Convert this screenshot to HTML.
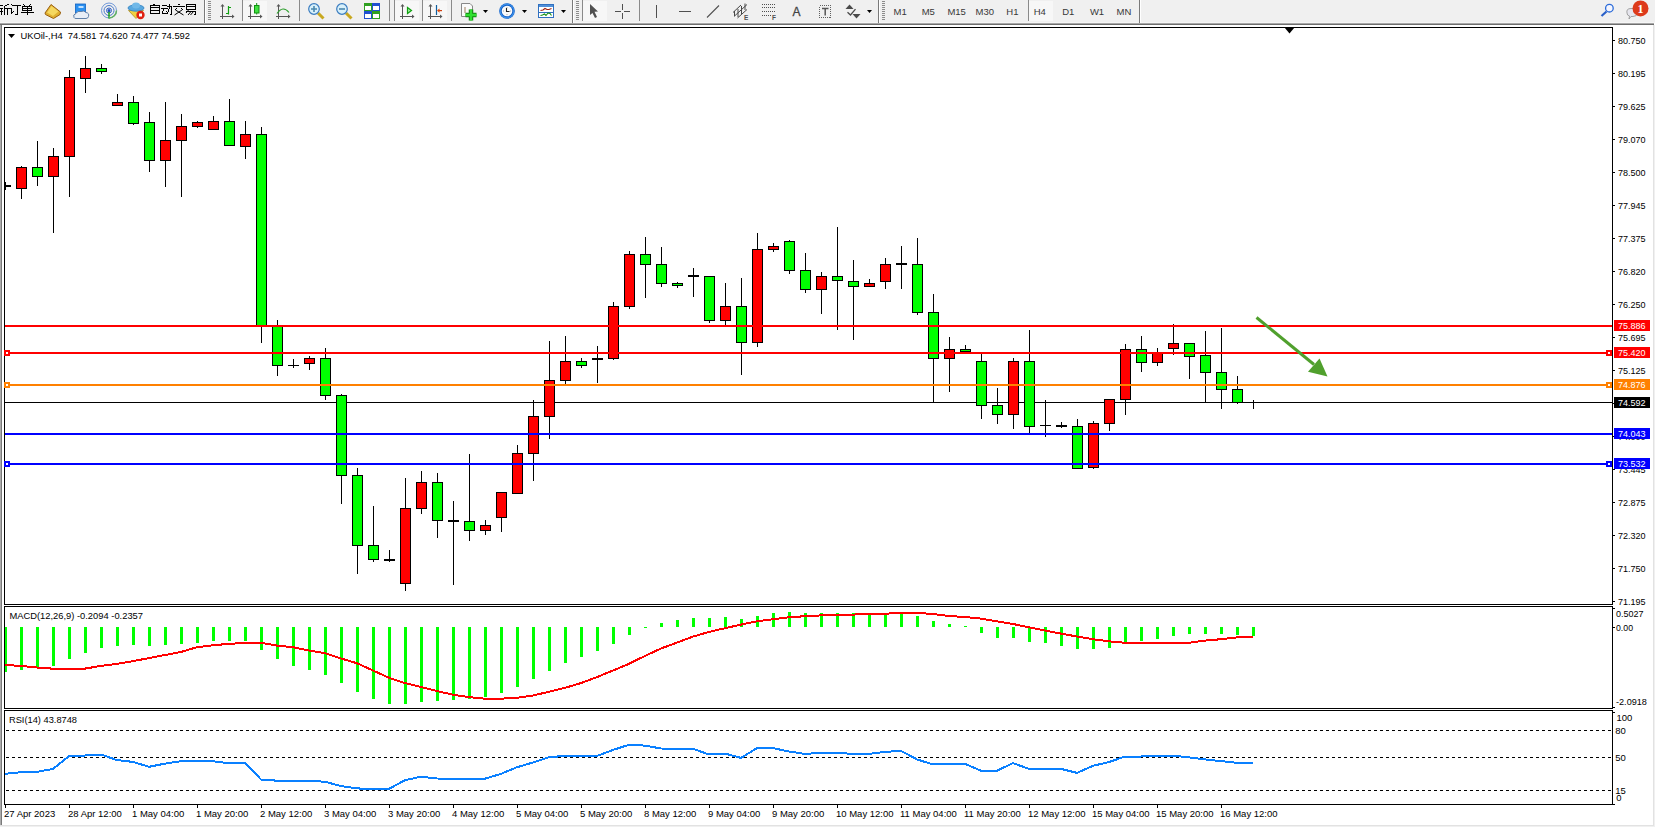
<!DOCTYPE html><html><head><meta charset="utf-8"><style>
html,body{margin:0;padding:0;width:1655px;height:827px;overflow:hidden;background:#fff}
svg{display:block} text{font-family:"Liberation Sans",sans-serif;white-space:pre}
</style></head><body>
<svg width="1655" height="827" viewBox="0 0 1655 827">
<g shape-rendering="crispEdges">
<rect x="0" y="0" width="1655" height="23" fill="#f0f0f0"/>
<rect x="0" y="22" width="1655" height="1" fill="#f6f6f6"/>
<rect x="0" y="23" width="1654" height="1" fill="#a8a8a8"/>
<rect x="0" y="24" width="1654" height="1" fill="#6e6e6e"/>
<rect x="0" y="25" width="1655" height="802" fill="#ffffff"/>
<rect x="0" y="25" width="1" height="801" fill="#ababab"/>
<rect x="1" y="25" width="1" height="801" fill="#7a7a7a"/>
<rect x="1653" y="25" width="1" height="801" fill="#e2e2e2"/>
<rect x="1654" y="25" width="1" height="802" fill="#f0f0f0"/>
<rect x="0" y="825" width="1654" height="1" fill="#e2e2e2"/>
<rect x="0" y="826" width="1655" height="1" fill="#f0f0f0"/>
</g>
<g shape-rendering="crispEdges" fill="none" stroke="#000" stroke-width="1">
<rect x="4.5" y="27.5" width="1608" height="577"/>
<rect x="4.5" y="606.5" width="1608" height="102"/>
<rect x="4.5" y="710.5" width="1608" height="94"/>
</g>
<defs><clipPath id="cm"><rect x="5" y="28" width="1607" height="576"/></clipPath>
<clipPath id="cmacd"><rect x="5" y="607" width="1607" height="101"/></clipPath>
<clipPath id="crsi"><rect x="5" y="711" width="1607" height="93"/></clipPath></defs>
<g clip-path="url(#cm)" shape-rendering="crispEdges">
<rect x="5" y="402" width="1607" height="1" fill="#000"/>
<rect x="5" y="182" width="1" height="8" fill="#000"/>
<rect x="0" y="185" width="11" height="2" fill="#000"/>
<rect x="21" y="166" width="1" height="33" fill="#000"/>
<rect x="16" y="167" width="11" height="22" fill="#000"/>
<rect x="17" y="168" width="9" height="20" fill="#ff0000"/>
<rect x="37" y="141" width="1" height="45" fill="#000"/>
<rect x="32" y="167" width="11" height="10" fill="#000"/>
<rect x="33" y="168" width="9" height="8" fill="#00ff00"/>
<rect x="53" y="148" width="1" height="85" fill="#000"/>
<rect x="48" y="156" width="11" height="21" fill="#000"/>
<rect x="49" y="157" width="9" height="19" fill="#ff0000"/>
<rect x="69" y="70" width="1" height="127" fill="#000"/>
<rect x="64" y="77" width="11" height="80" fill="#000"/>
<rect x="65" y="78" width="9" height="78" fill="#ff0000"/>
<rect x="85" y="56" width="1" height="37" fill="#000"/>
<rect x="80" y="68" width="11" height="11" fill="#000"/>
<rect x="81" y="69" width="9" height="9" fill="#ff0000"/>
<rect x="101" y="64" width="1" height="10" fill="#000"/>
<rect x="96" y="68" width="11" height="4" fill="#000"/>
<rect x="97" y="69" width="9" height="2" fill="#00ff00"/>
<rect x="117" y="94" width="1" height="12" fill="#000"/>
<rect x="112" y="102" width="11" height="4" fill="#000"/>
<rect x="113" y="103" width="9" height="2" fill="#ff0000"/>
<rect x="133" y="96" width="1" height="29" fill="#000"/>
<rect x="128" y="102" width="11" height="22" fill="#000"/>
<rect x="129" y="103" width="9" height="20" fill="#00ff00"/>
<rect x="149" y="112" width="1" height="60" fill="#000"/>
<rect x="144" y="122" width="11" height="39" fill="#000"/>
<rect x="145" y="123" width="9" height="37" fill="#00ff00"/>
<rect x="165" y="102" width="1" height="85" fill="#000"/>
<rect x="160" y="140" width="11" height="21" fill="#000"/>
<rect x="161" y="141" width="9" height="19" fill="#ff0000"/>
<rect x="181" y="114" width="1" height="83" fill="#000"/>
<rect x="176" y="126" width="11" height="15" fill="#000"/>
<rect x="177" y="127" width="9" height="13" fill="#ff0000"/>
<rect x="197" y="121" width="1" height="7" fill="#000"/>
<rect x="192" y="122" width="11" height="5" fill="#000"/>
<rect x="193" y="123" width="9" height="3" fill="#ff0000"/>
<rect x="213" y="116" width="1" height="14" fill="#000"/>
<rect x="208" y="121" width="11" height="9" fill="#000"/>
<rect x="209" y="122" width="9" height="7" fill="#ff0000"/>
<rect x="229" y="99" width="1" height="47" fill="#000"/>
<rect x="224" y="121" width="11" height="25" fill="#000"/>
<rect x="225" y="122" width="9" height="23" fill="#00ff00"/>
<rect x="245" y="121" width="1" height="38" fill="#000"/>
<rect x="240" y="134" width="11" height="13" fill="#000"/>
<rect x="241" y="135" width="9" height="11" fill="#ff0000"/>
<rect x="261" y="127" width="1" height="216" fill="#000"/>
<rect x="256" y="134" width="11" height="192" fill="#000"/>
<rect x="257" y="135" width="9" height="190" fill="#00ff00"/>
<rect x="277" y="320" width="1" height="56" fill="#000"/>
<rect x="272" y="326" width="11" height="40" fill="#000"/>
<rect x="273" y="327" width="9" height="38" fill="#00ff00"/>
<rect x="293" y="359" width="1" height="9" fill="#000"/>
<rect x="288" y="365" width="11" height="1" fill="#000"/>
<rect x="309" y="356" width="1" height="14" fill="#000"/>
<rect x="304" y="358" width="11" height="6" fill="#000"/>
<rect x="305" y="359" width="9" height="4" fill="#ff0000"/>
<rect x="325" y="348" width="1" height="52" fill="#000"/>
<rect x="320" y="358" width="11" height="38" fill="#000"/>
<rect x="321" y="359" width="9" height="36" fill="#00ff00"/>
<rect x="341" y="394" width="1" height="110" fill="#000"/>
<rect x="336" y="395" width="11" height="81" fill="#000"/>
<rect x="337" y="396" width="9" height="79" fill="#00ff00"/>
<rect x="357" y="468" width="1" height="106" fill="#000"/>
<rect x="352" y="475" width="11" height="71" fill="#000"/>
<rect x="353" y="476" width="9" height="69" fill="#00ff00"/>
<rect x="373" y="506" width="1" height="56" fill="#000"/>
<rect x="368" y="545" width="11" height="15" fill="#000"/>
<rect x="369" y="546" width="9" height="13" fill="#00ff00"/>
<rect x="389" y="550" width="1" height="12" fill="#000"/>
<rect x="384" y="559" width="11" height="2" fill="#000"/>
<rect x="405" y="478" width="1" height="113" fill="#000"/>
<rect x="400" y="508" width="11" height="76" fill="#000"/>
<rect x="401" y="509" width="9" height="74" fill="#ff0000"/>
<rect x="421" y="471" width="1" height="43" fill="#000"/>
<rect x="416" y="482" width="11" height="27" fill="#000"/>
<rect x="417" y="483" width="9" height="25" fill="#ff0000"/>
<rect x="437" y="473" width="1" height="65" fill="#000"/>
<rect x="432" y="482" width="11" height="39" fill="#000"/>
<rect x="433" y="483" width="9" height="37" fill="#00ff00"/>
<rect x="453" y="501" width="1" height="84" fill="#000"/>
<rect x="448" y="520" width="11" height="2" fill="#000"/>
<rect x="469" y="454" width="1" height="87" fill="#000"/>
<rect x="464" y="521" width="11" height="10" fill="#000"/>
<rect x="465" y="522" width="9" height="8" fill="#00ff00"/>
<rect x="485" y="520" width="1" height="15" fill="#000"/>
<rect x="480" y="525" width="11" height="6" fill="#000"/>
<rect x="481" y="526" width="9" height="4" fill="#ff0000"/>
<rect x="501" y="492" width="1" height="40" fill="#000"/>
<rect x="496" y="492" width="11" height="26" fill="#000"/>
<rect x="497" y="493" width="9" height="24" fill="#ff0000"/>
<rect x="517" y="445" width="1" height="49" fill="#000"/>
<rect x="512" y="453" width="11" height="41" fill="#000"/>
<rect x="513" y="454" width="9" height="39" fill="#ff0000"/>
<rect x="533" y="400" width="1" height="81" fill="#000"/>
<rect x="528" y="416" width="11" height="38" fill="#000"/>
<rect x="529" y="417" width="9" height="36" fill="#ff0000"/>
<rect x="549" y="341" width="1" height="98" fill="#000"/>
<rect x="544" y="380" width="11" height="37" fill="#000"/>
<rect x="545" y="381" width="9" height="35" fill="#ff0000"/>
<rect x="565" y="336" width="1" height="48" fill="#000"/>
<rect x="560" y="361" width="11" height="20" fill="#000"/>
<rect x="561" y="362" width="9" height="18" fill="#ff0000"/>
<rect x="581" y="358" width="1" height="10" fill="#000"/>
<rect x="576" y="361" width="11" height="5" fill="#000"/>
<rect x="577" y="362" width="9" height="3" fill="#00ff00"/>
<rect x="597" y="346" width="1" height="37" fill="#000"/>
<rect x="592" y="358" width="11" height="2" fill="#000"/>
<rect x="613" y="302" width="1" height="58" fill="#000"/>
<rect x="608" y="306" width="11" height="53" fill="#000"/>
<rect x="609" y="307" width="9" height="51" fill="#ff0000"/>
<rect x="629" y="251" width="1" height="58" fill="#000"/>
<rect x="624" y="254" width="11" height="53" fill="#000"/>
<rect x="625" y="255" width="9" height="51" fill="#ff0000"/>
<rect x="645" y="237" width="1" height="61" fill="#000"/>
<rect x="640" y="254" width="11" height="11" fill="#000"/>
<rect x="641" y="255" width="9" height="9" fill="#00ff00"/>
<rect x="661" y="247" width="1" height="40" fill="#000"/>
<rect x="656" y="264" width="11" height="20" fill="#000"/>
<rect x="657" y="265" width="9" height="18" fill="#00ff00"/>
<rect x="677" y="282" width="1" height="6" fill="#000"/>
<rect x="672" y="283" width="11" height="3" fill="#000"/>
<rect x="673" y="284" width="9" height="1" fill="#00ff00"/>
<rect x="693" y="268" width="1" height="29" fill="#000"/>
<rect x="688" y="275" width="11" height="2" fill="#000"/>
<rect x="709" y="276" width="1" height="47" fill="#000"/>
<rect x="704" y="276" width="11" height="45" fill="#000"/>
<rect x="705" y="277" width="9" height="43" fill="#00ff00"/>
<rect x="725" y="283" width="1" height="43" fill="#000"/>
<rect x="720" y="306" width="11" height="15" fill="#000"/>
<rect x="721" y="307" width="9" height="13" fill="#ff0000"/>
<rect x="741" y="278" width="1" height="97" fill="#000"/>
<rect x="736" y="306" width="11" height="37" fill="#000"/>
<rect x="737" y="307" width="9" height="35" fill="#00ff00"/>
<rect x="757" y="233" width="1" height="114" fill="#000"/>
<rect x="752" y="249" width="11" height="94" fill="#000"/>
<rect x="753" y="250" width="9" height="92" fill="#ff0000"/>
<rect x="773" y="243" width="1" height="9" fill="#000"/>
<rect x="768" y="246" width="11" height="4" fill="#000"/>
<rect x="769" y="247" width="9" height="2" fill="#ff0000"/>
<rect x="789" y="240" width="1" height="34" fill="#000"/>
<rect x="784" y="241" width="11" height="30" fill="#000"/>
<rect x="785" y="242" width="9" height="28" fill="#00ff00"/>
<rect x="805" y="253" width="1" height="40" fill="#000"/>
<rect x="800" y="270" width="11" height="20" fill="#000"/>
<rect x="801" y="271" width="9" height="18" fill="#00ff00"/>
<rect x="821" y="272" width="1" height="42" fill="#000"/>
<rect x="816" y="276" width="11" height="14" fill="#000"/>
<rect x="817" y="277" width="9" height="12" fill="#ff0000"/>
<rect x="837" y="227" width="1" height="103" fill="#000"/>
<rect x="832" y="276" width="11" height="5" fill="#000"/>
<rect x="833" y="277" width="9" height="3" fill="#00ff00"/>
<rect x="853" y="260" width="1" height="80" fill="#000"/>
<rect x="848" y="281" width="11" height="6" fill="#000"/>
<rect x="849" y="282" width="9" height="4" fill="#00ff00"/>
<rect x="869" y="279" width="1" height="8" fill="#000"/>
<rect x="864" y="283" width="11" height="4" fill="#000"/>
<rect x="865" y="284" width="9" height="2" fill="#ff0000"/>
<rect x="885" y="258" width="1" height="31" fill="#000"/>
<rect x="880" y="264" width="11" height="18" fill="#000"/>
<rect x="881" y="265" width="9" height="16" fill="#ff0000"/>
<rect x="901" y="246" width="1" height="43" fill="#000"/>
<rect x="896" y="263" width="11" height="2" fill="#000"/>
<rect x="917" y="238" width="1" height="77" fill="#000"/>
<rect x="912" y="264" width="11" height="49" fill="#000"/>
<rect x="913" y="265" width="9" height="47" fill="#00ff00"/>
<rect x="933" y="294" width="1" height="109" fill="#000"/>
<rect x="928" y="312" width="11" height="47" fill="#000"/>
<rect x="929" y="313" width="9" height="45" fill="#00ff00"/>
<rect x="949" y="337" width="1" height="55" fill="#000"/>
<rect x="944" y="349" width="11" height="10" fill="#000"/>
<rect x="945" y="350" width="9" height="8" fill="#ff0000"/>
<rect x="965" y="345" width="1" height="7" fill="#000"/>
<rect x="960" y="349" width="11" height="3" fill="#000"/>
<rect x="961" y="350" width="9" height="1" fill="#00ff00"/>
<rect x="981" y="354" width="1" height="65" fill="#000"/>
<rect x="976" y="361" width="11" height="45" fill="#000"/>
<rect x="977" y="362" width="9" height="43" fill="#00ff00"/>
<rect x="997" y="388" width="1" height="36" fill="#000"/>
<rect x="992" y="405" width="11" height="10" fill="#000"/>
<rect x="993" y="406" width="9" height="8" fill="#00ff00"/>
<rect x="1013" y="358" width="1" height="71" fill="#000"/>
<rect x="1008" y="361" width="11" height="54" fill="#000"/>
<rect x="1009" y="362" width="9" height="52" fill="#ff0000"/>
<rect x="1029" y="330" width="1" height="103" fill="#000"/>
<rect x="1024" y="361" width="11" height="66" fill="#000"/>
<rect x="1025" y="362" width="9" height="64" fill="#00ff00"/>
<rect x="1045" y="400" width="1" height="37" fill="#000"/>
<rect x="1040" y="425" width="11" height="1" fill="#000"/>
<rect x="1061" y="422" width="1" height="6" fill="#000"/>
<rect x="1056" y="425" width="11" height="2" fill="#000"/>
<rect x="1077" y="419" width="1" height="50" fill="#000"/>
<rect x="1072" y="426" width="11" height="43" fill="#000"/>
<rect x="1073" y="427" width="9" height="41" fill="#00ff00"/>
<rect x="1093" y="421" width="1" height="48" fill="#000"/>
<rect x="1088" y="423" width="11" height="45" fill="#000"/>
<rect x="1089" y="424" width="9" height="43" fill="#ff0000"/>
<rect x="1109" y="399" width="1" height="32" fill="#000"/>
<rect x="1104" y="399" width="11" height="25" fill="#000"/>
<rect x="1105" y="400" width="9" height="23" fill="#ff0000"/>
<rect x="1125" y="344" width="1" height="71" fill="#000"/>
<rect x="1120" y="349" width="11" height="51" fill="#000"/>
<rect x="1121" y="350" width="9" height="49" fill="#ff0000"/>
<rect x="1141" y="336" width="1" height="36" fill="#000"/>
<rect x="1136" y="349" width="11" height="14" fill="#000"/>
<rect x="1137" y="350" width="9" height="12" fill="#00ff00"/>
<rect x="1157" y="348" width="1" height="18" fill="#000"/>
<rect x="1152" y="353" width="11" height="10" fill="#000"/>
<rect x="1153" y="354" width="9" height="8" fill="#ff0000"/>
<rect x="1173" y="324" width="1" height="31" fill="#000"/>
<rect x="1168" y="343" width="11" height="6" fill="#000"/>
<rect x="1169" y="344" width="9" height="4" fill="#ff0000"/>
<rect x="1189" y="343" width="1" height="36" fill="#000"/>
<rect x="1184" y="343" width="11" height="14" fill="#000"/>
<rect x="1185" y="344" width="9" height="12" fill="#00ff00"/>
<rect x="1205" y="331" width="1" height="72" fill="#000"/>
<rect x="1200" y="355" width="11" height="18" fill="#000"/>
<rect x="1201" y="356" width="9" height="16" fill="#00ff00"/>
<rect x="1221" y="328" width="1" height="81" fill="#000"/>
<rect x="1216" y="372" width="11" height="18" fill="#000"/>
<rect x="1217" y="373" width="9" height="16" fill="#00ff00"/>
<rect x="1237" y="376" width="1" height="28" fill="#000"/>
<rect x="1232" y="389" width="11" height="14" fill="#000"/>
<rect x="1233" y="390" width="9" height="12" fill="#00ff00"/>
<rect x="1253" y="400" width="1" height="9" fill="#000"/>
<rect x="1248" y="402" width="11" height="1" fill="#000"/>
<rect x="5" y="325" width="1607" height="2" fill="#ff0000"/>
<rect x="5" y="352" width="1607" height="2" fill="#ff0000"/>
<rect x="5" y="384" width="1607" height="2" fill="#ff8000"/>
<rect x="5" y="433" width="1607" height="2" fill="#0000ff"/>
<rect x="5" y="463" width="1607" height="2" fill="#0000ff"/>
</g>
<g shape-rendering="crispEdges">
<rect x="4" y="350" width="6" height="6" fill="#ff0000"/>
<rect x="6" y="352" width="2" height="2" fill="#fff"/>
<rect x="1606" y="350" width="6" height="6" fill="#ff0000"/>
<rect x="1608" y="352" width="2" height="2" fill="#fff"/>
<rect x="4" y="382" width="6" height="6" fill="#ff8000"/>
<rect x="6" y="384" width="2" height="2" fill="#fff"/>
<rect x="1606" y="382" width="6" height="6" fill="#ff8000"/>
<rect x="1608" y="384" width="2" height="2" fill="#fff"/>
<rect x="4" y="461" width="6" height="6" fill="#0000ff"/>
<rect x="6" y="463" width="2" height="2" fill="#fff"/>
<rect x="1606" y="461" width="6" height="6" fill="#0000ff"/>
<rect x="1608" y="463" width="2" height="2" fill="#fff"/>
</g>
<polygon points="1284.5,27.5 1294.5,27.5 1289.5,33.5" fill="#000"/>
<g fill="#50a02d" stroke="none">
<line x1="1256.5" y1="317.5" x2="1314" y2="364.5" stroke="#50a02d" stroke-width="3"/>
<polygon points="1327.5,376.5 1308,371.8 1319.5,358.5"/>
</g>
<g shape-rendering="crispEdges">
<rect x="1613" y="40" width="2" height="1" fill="#000"/>
<rect x="1613" y="73" width="2" height="1" fill="#000"/>
<rect x="1613" y="106" width="2" height="1" fill="#000"/>
<rect x="1613" y="139" width="2" height="1" fill="#000"/>
<rect x="1613" y="172" width="2" height="1" fill="#000"/>
<rect x="1613" y="205" width="2" height="1" fill="#000"/>
<rect x="1613" y="238" width="2" height="1" fill="#000"/>
<rect x="1613" y="271" width="2" height="1" fill="#000"/>
<rect x="1613" y="304" width="2" height="1" fill="#000"/>
<rect x="1613" y="337" width="2" height="1" fill="#000"/>
<rect x="1613" y="370" width="2" height="1" fill="#000"/>
<rect x="1613" y="403" width="2" height="1" fill="#000"/>
<rect x="1613" y="436" width="2" height="1" fill="#000"/>
<rect x="1613" y="469" width="2" height="1" fill="#000"/>
<rect x="1613" y="502" width="2" height="1" fill="#000"/>
<rect x="1613" y="535" width="2" height="1" fill="#000"/>
<rect x="1613" y="568" width="2" height="1" fill="#000"/>
<rect x="1613" y="601" width="2" height="1" fill="#000"/>
</g>
<text x="1618" y="44" font-size="9.5" fill="#000" textLength="27.6" lengthAdjust="spacingAndGlyphs">80.750</text>
<text x="1618" y="77" font-size="9.5" fill="#000" textLength="27.6" lengthAdjust="spacingAndGlyphs">80.195</text>
<text x="1618" y="110" font-size="9.5" fill="#000" textLength="27.6" lengthAdjust="spacingAndGlyphs">79.625</text>
<text x="1618" y="143" font-size="9.5" fill="#000" textLength="27.6" lengthAdjust="spacingAndGlyphs">79.070</text>
<text x="1618" y="176" font-size="9.5" fill="#000" textLength="27.6" lengthAdjust="spacingAndGlyphs">78.500</text>
<text x="1618" y="209" font-size="9.5" fill="#000" textLength="27.6" lengthAdjust="spacingAndGlyphs">77.945</text>
<text x="1618" y="242" font-size="9.5" fill="#000" textLength="27.6" lengthAdjust="spacingAndGlyphs">77.375</text>
<text x="1618" y="275" font-size="9.5" fill="#000" textLength="27.6" lengthAdjust="spacingAndGlyphs">76.820</text>
<text x="1618" y="308" font-size="9.5" fill="#000" textLength="27.6" lengthAdjust="spacingAndGlyphs">76.250</text>
<text x="1618" y="341" font-size="9.5" fill="#000" textLength="27.6" lengthAdjust="spacingAndGlyphs">75.695</text>
<text x="1618" y="374" font-size="9.5" fill="#000" textLength="27.6" lengthAdjust="spacingAndGlyphs">75.125</text>
<text x="1618" y="407" font-size="9.5" fill="#000" textLength="27.6" lengthAdjust="spacingAndGlyphs">74.570</text>
<text x="1618" y="440" font-size="9.5" fill="#000" textLength="27.6" lengthAdjust="spacingAndGlyphs">74.000</text>
<text x="1618" y="473" font-size="9.5" fill="#000" textLength="27.6" lengthAdjust="spacingAndGlyphs">73.445</text>
<text x="1618" y="506" font-size="9.5" fill="#000" textLength="27.6" lengthAdjust="spacingAndGlyphs">72.875</text>
<text x="1618" y="539" font-size="9.5" fill="#000" textLength="27.6" lengthAdjust="spacingAndGlyphs">72.320</text>
<text x="1618" y="572" font-size="9.5" fill="#000" textLength="27.6" lengthAdjust="spacingAndGlyphs">71.750</text>
<text x="1618" y="605" font-size="9.5" fill="#000" textLength="27.6" lengthAdjust="spacingAndGlyphs">71.195</text>
<g shape-rendering="crispEdges">
<rect x="1614" y="320" width="36" height="11" fill="#ff0000"/>
<rect x="1614" y="347" width="36" height="11" fill="#ff0000"/>
<rect x="1614" y="379" width="36" height="11" fill="#ff8000"/>
<rect x="1614" y="397" width="36" height="11" fill="#000"/>
<rect x="1614" y="428" width="36" height="11" fill="#0000ff"/>
<rect x="1614" y="458" width="36" height="11" fill="#0000ff"/>
</g>
<text x="1618" y="329" font-size="9.5" fill="#fff" textLength="27.6" lengthAdjust="spacingAndGlyphs">75.886</text>
<text x="1618" y="356" font-size="9.5" fill="#fff" textLength="27.6" lengthAdjust="spacingAndGlyphs">75.420</text>
<text x="1618" y="388" font-size="9.5" fill="#fff" textLength="27.6" lengthAdjust="spacingAndGlyphs">74.876</text>
<text x="1618" y="406" font-size="9.5" fill="#fff" textLength="27.6" lengthAdjust="spacingAndGlyphs">74.592</text>
<text x="1618" y="437" font-size="9.5" fill="#fff" textLength="27.6" lengthAdjust="spacingAndGlyphs">74.043</text>
<text x="1618" y="467" font-size="9.5" fill="#fff" textLength="27.6" lengthAdjust="spacingAndGlyphs">73.532</text>
<polygon points="8,34 15,34 11.5,38" fill="#000"/>
<text x="20.5" y="39" font-size="9.5" fill="#000" textLength="169.5" lengthAdjust="spacingAndGlyphs">UKOil-,H4  74.581 74.620 74.477 74.592</text>
<g clip-path="url(#cmacd)" shape-rendering="crispEdges">
<rect x="4" y="627" width="3" height="45" fill="#00ff00"/>
<rect x="20" y="627" width="3" height="43" fill="#00ff00"/>
<rect x="36" y="627" width="3" height="41" fill="#00ff00"/>
<rect x="52" y="627" width="3" height="39" fill="#00ff00"/>
<rect x="68" y="627" width="3" height="32" fill="#00ff00"/>
<rect x="84" y="627" width="3" height="26" fill="#00ff00"/>
<rect x="100" y="627" width="3" height="21" fill="#00ff00"/>
<rect x="116" y="627" width="3" height="19" fill="#00ff00"/>
<rect x="132" y="627" width="3" height="18" fill="#00ff00"/>
<rect x="148" y="627" width="3" height="19" fill="#00ff00"/>
<rect x="164" y="627" width="3" height="18" fill="#00ff00"/>
<rect x="180" y="627" width="3" height="17" fill="#00ff00"/>
<rect x="196" y="627" width="3" height="16" fill="#00ff00"/>
<rect x="212" y="627" width="3" height="14" fill="#00ff00"/>
<rect x="228" y="627" width="3" height="14" fill="#00ff00"/>
<rect x="244" y="627" width="3" height="14" fill="#00ff00"/>
<rect x="260" y="627" width="3" height="23" fill="#00ff00"/>
<rect x="276" y="627" width="3" height="32" fill="#00ff00"/>
<rect x="292" y="627" width="3" height="39" fill="#00ff00"/>
<rect x="308" y="627" width="3" height="43" fill="#00ff00"/>
<rect x="324" y="627" width="3" height="48" fill="#00ff00"/>
<rect x="340" y="627" width="3" height="56" fill="#00ff00"/>
<rect x="356" y="627" width="3" height="65" fill="#00ff00"/>
<rect x="372" y="627" width="3" height="72" fill="#00ff00"/>
<rect x="388" y="627" width="3" height="77" fill="#00ff00"/>
<rect x="404" y="627" width="3" height="77" fill="#00ff00"/>
<rect x="420" y="627" width="3" height="75" fill="#00ff00"/>
<rect x="436" y="627" width="3" height="74" fill="#00ff00"/>
<rect x="452" y="627" width="3" height="73" fill="#00ff00"/>
<rect x="468" y="627" width="3" height="72" fill="#00ff00"/>
<rect x="484" y="627" width="3" height="70" fill="#00ff00"/>
<rect x="500" y="627" width="3" height="66" fill="#00ff00"/>
<rect x="516" y="627" width="3" height="60" fill="#00ff00"/>
<rect x="532" y="627" width="3" height="52" fill="#00ff00"/>
<rect x="548" y="627" width="3" height="44" fill="#00ff00"/>
<rect x="564" y="627" width="3" height="36" fill="#00ff00"/>
<rect x="580" y="627" width="3" height="30" fill="#00ff00"/>
<rect x="596" y="627" width="3" height="24" fill="#00ff00"/>
<rect x="612" y="627" width="3" height="17" fill="#00ff00"/>
<rect x="628" y="627" width="3" height="8" fill="#00ff00"/>
<rect x="644" y="627" width="3" height="1" fill="#00ff00"/>
<rect x="660" y="623" width="3" height="4" fill="#00ff00"/>
<rect x="676" y="620" width="3" height="7" fill="#00ff00"/>
<rect x="692" y="618" width="3" height="9" fill="#00ff00"/>
<rect x="708" y="618" width="3" height="9" fill="#00ff00"/>
<rect x="724" y="617" width="3" height="10" fill="#00ff00"/>
<rect x="740" y="619" width="3" height="8" fill="#00ff00"/>
<rect x="756" y="616" width="3" height="11" fill="#00ff00"/>
<rect x="772" y="613" width="3" height="14" fill="#00ff00"/>
<rect x="788" y="612" width="3" height="15" fill="#00ff00"/>
<rect x="804" y="613" width="3" height="14" fill="#00ff00"/>
<rect x="820" y="613" width="3" height="14" fill="#00ff00"/>
<rect x="836" y="613" width="3" height="14" fill="#00ff00"/>
<rect x="852" y="613" width="3" height="14" fill="#00ff00"/>
<rect x="868" y="613" width="3" height="14" fill="#00ff00"/>
<rect x="884" y="613" width="3" height="14" fill="#00ff00"/>
<rect x="900" y="613" width="3" height="14" fill="#00ff00"/>
<rect x="916" y="616" width="3" height="11" fill="#00ff00"/>
<rect x="932" y="621" width="3" height="6" fill="#00ff00"/>
<rect x="948" y="624" width="3" height="3" fill="#00ff00"/>
<rect x="964" y="626" width="3" height="1" fill="#00ff00"/>
<rect x="980" y="627" width="3" height="6" fill="#00ff00"/>
<rect x="996" y="627" width="3" height="11" fill="#00ff00"/>
<rect x="1012" y="627" width="3" height="11" fill="#00ff00"/>
<rect x="1028" y="627" width="3" height="15" fill="#00ff00"/>
<rect x="1044" y="627" width="3" height="16" fill="#00ff00"/>
<rect x="1060" y="627" width="3" height="19" fill="#00ff00"/>
<rect x="1076" y="627" width="3" height="22" fill="#00ff00"/>
<rect x="1092" y="627" width="3" height="22" fill="#00ff00"/>
<rect x="1108" y="627" width="3" height="21" fill="#00ff00"/>
<rect x="1124" y="627" width="3" height="17" fill="#00ff00"/>
<rect x="1140" y="627" width="3" height="14" fill="#00ff00"/>
<rect x="1156" y="627" width="3" height="12" fill="#00ff00"/>
<rect x="1172" y="627" width="3" height="9" fill="#00ff00"/>
<rect x="1188" y="627" width="3" height="7" fill="#00ff00"/>
<rect x="1204" y="627" width="3" height="7" fill="#00ff00"/>
<rect x="1220" y="627" width="3" height="7" fill="#00ff00"/>
<rect x="1236" y="627" width="3" height="8" fill="#00ff00"/>
<rect x="1252" y="627" width="3" height="9" fill="#00ff00"/>
</g>
<g clip-path="url(#cmacd)"><polyline points="5,665 21,665.9 37,667.5 53,668.7 69,668.8 85,668.6 101,665.9 117,663.9 133,661.1 149,658.1 165,655 181,652 197,647.2 213,645.2 229,643.9 245,642.8 261,642.8 277,645.6 293,647.2 309,650.5 325,653.2 341,658.5 357,663.2 373,670.5 389,677.8 405,683.1 421,687.1 437,691.1 453,694.7 469,697.1 485,698.7 501,698.7 517,697.8 533,695.5 549,691.8 565,687.8 581,683.1 597,677.1 613,670.5 629,663.8 645,655.9 661,648.5 677,642.6 693,636.6 709,631.9 725,628.2 741,624.6 757,621.3 773,619.3 789,617.3 805,616.2 821,615.4 837,614.6 853,614.6 869,613.7 885,613.7 901,612.9 917,612.9 933,614 949,616 965,617 981,618.6 997,621.3 1013,624 1029,627.3 1045,630.5 1061,633.6 1077,636.5 1093,639.2 1109,641.3 1125,642.8 1141,642.8 1157,642.8 1173,642.8 1189,642.8 1205,640.6 1221,639.2 1237,637.4 1253,637" fill="none" stroke="#ff0000" stroke-width="2" shape-rendering="crispEdges" stroke-linejoin="round"/></g>
<text x="9.4" y="619" font-size="9.5" fill="#000" textLength="133.6" lengthAdjust="spacingAndGlyphs">MACD(12,26,9) -0.2094 -0.2357</text>
<g shape-rendering="crispEdges">
<rect x="1613" y="608" width="2" height="1" fill="#000"/>
<rect x="1613" y="627" width="2" height="1" fill="#000"/>
<rect x="1613" y="707" width="2" height="1" fill="#000"/>
</g>
<text x="1616" y="617" font-size="9.5" fill="#000" textLength="27.5" lengthAdjust="spacingAndGlyphs">0.5027</text>
<text x="1616" y="631" font-size="9.5" fill="#000" textLength="17" lengthAdjust="spacingAndGlyphs">0.00</text>
<text x="1616" y="705" font-size="9.5" fill="#000" textLength="30.9" lengthAdjust="spacingAndGlyphs">-2.0918</text>
<g clip-path="url(#crsi)" shape-rendering="crispEdges">
<line x1="6" y1="730.5" x2="1612" y2="730.5" stroke="#000" stroke-width="1" stroke-dasharray="3,3"/>
<line x1="6" y1="757.5" x2="1612" y2="757.5" stroke="#000" stroke-width="1" stroke-dasharray="3,3"/>
<line x1="6" y1="790.5" x2="1612" y2="790.5" stroke="#000" stroke-width="1" stroke-dasharray="3,3"/>
</g>
<g clip-path="url(#crsi)"><polyline points="5,773.8 21,772.2 37,771.8 53,768.9 69,756.1 85,755.5 101,754.5 117,760.1 133,761.9 149,766.8 165,763.6 181,761.2 197,760.9 213,761.2 229,763.2 245,762.8 261,779.5 277,780.7 293,780.7 309,780.7 325,781.8 341,786 357,788.4 373,789.1 389,788.8 405,780.2 421,776.7 437,778.5 453,778.7 469,778.7 485,778.7 501,773.8 517,767.2 533,762.5 549,757.2 565,755.9 581,755.9 597,755.9 613,749.9 629,744.8 645,745.6 661,748.5 677,748.8 693,748.8 709,754.5 725,753.6 741,757.9 757,748.1 773,748.1 789,751.5 805,753.9 821,752.9 837,752.9 853,753.9 869,753.9 885,751.9 901,750.9 917,759.4 933,764.5 949,763.8 965,763.8 981,770.7 997,770.7 1013,763.1 1029,768.9 1045,768.9 1061,768.9 1077,772.9 1093,765.8 1109,762.1 1125,756.5 1141,756.5 1157,755.7 1173,755.7 1189,757.4 1205,759.4 1221,761.1 1237,762.8 1253,762.8" fill="none" stroke="#0a80ff" stroke-width="2" shape-rendering="crispEdges" stroke-linejoin="round"/></g>
<text x="9" y="723.3" font-size="9.5" fill="#000" textLength="68" lengthAdjust="spacingAndGlyphs">RSI(14) 43.8748</text>
<g shape-rendering="crispEdges">
<rect x="1613" y="712" width="2" height="1" fill="#000"/>
<rect x="1613" y="804" width="2" height="1" fill="#000"/>
</g>
<text x="1616.4" y="721" font-size="9.5" fill="#000" textLength="15.85" lengthAdjust="spacingAndGlyphs">100</text>
<text x="1615.3" y="733.5" font-size="9.5" fill="#000" textLength="10.57" lengthAdjust="spacingAndGlyphs">80</text>
<text x="1615.3" y="761" font-size="9.5" fill="#000" textLength="10.57" lengthAdjust="spacingAndGlyphs">50</text>
<text x="1615.3" y="793.6" font-size="9.5" fill="#000" textLength="10.57" lengthAdjust="spacingAndGlyphs">15</text>
<text x="1616.3" y="800.7" font-size="9.5" fill="#000" textLength="5.28" lengthAdjust="spacingAndGlyphs">0</text>
<g shape-rendering="crispEdges">
<rect x="5" y="805" width="1" height="3" fill="#000"/>
<rect x="69" y="805" width="1" height="3" fill="#000"/>
<rect x="133" y="805" width="1" height="3" fill="#000"/>
<rect x="197" y="805" width="1" height="3" fill="#000"/>
<rect x="261" y="805" width="1" height="3" fill="#000"/>
<rect x="325" y="805" width="1" height="3" fill="#000"/>
<rect x="389" y="805" width="1" height="3" fill="#000"/>
<rect x="453" y="805" width="1" height="3" fill="#000"/>
<rect x="517" y="805" width="1" height="3" fill="#000"/>
<rect x="581" y="805" width="1" height="3" fill="#000"/>
<rect x="645" y="805" width="1" height="3" fill="#000"/>
<rect x="709" y="805" width="1" height="3" fill="#000"/>
<rect x="773" y="805" width="1" height="3" fill="#000"/>
<rect x="837" y="805" width="1" height="3" fill="#000"/>
<rect x="901" y="805" width="1" height="3" fill="#000"/>
<rect x="965" y="805" width="1" height="3" fill="#000"/>
<rect x="1029" y="805" width="1" height="3" fill="#000"/>
<rect x="1093" y="805" width="1" height="3" fill="#000"/>
<rect x="1157" y="805" width="1" height="3" fill="#000"/>
<rect x="1221" y="805" width="1" height="3" fill="#000"/>
</g>
<text x="4" y="817" font-size="9.5" fill="#000" textLength="51.23" lengthAdjust="spacingAndGlyphs">27 Apr 2023</text>
<text x="68" y="817" font-size="9.5" fill="#000" textLength="53.87" lengthAdjust="spacingAndGlyphs">28 Apr 12:00</text>
<text x="132" y="817" font-size="9.5" fill="#000" textLength="52.28" lengthAdjust="spacingAndGlyphs">1 May 04:00</text>
<text x="196" y="817" font-size="9.5" fill="#000" textLength="52.28" lengthAdjust="spacingAndGlyphs">1 May 20:00</text>
<text x="260" y="817" font-size="9.5" fill="#000" textLength="52.28" lengthAdjust="spacingAndGlyphs">2 May 12:00</text>
<text x="324" y="817" font-size="9.5" fill="#000" textLength="52.28" lengthAdjust="spacingAndGlyphs">3 May 04:00</text>
<text x="388" y="817" font-size="9.5" fill="#000" textLength="52.28" lengthAdjust="spacingAndGlyphs">3 May 20:00</text>
<text x="452" y="817" font-size="9.5" fill="#000" textLength="52.28" lengthAdjust="spacingAndGlyphs">4 May 12:00</text>
<text x="516" y="817" font-size="9.5" fill="#000" textLength="52.28" lengthAdjust="spacingAndGlyphs">5 May 04:00</text>
<text x="580" y="817" font-size="9.5" fill="#000" textLength="52.28" lengthAdjust="spacingAndGlyphs">5 May 20:00</text>
<text x="644" y="817" font-size="9.5" fill="#000" textLength="52.28" lengthAdjust="spacingAndGlyphs">8 May 12:00</text>
<text x="708" y="817" font-size="9.5" fill="#000" textLength="52.28" lengthAdjust="spacingAndGlyphs">9 May 04:00</text>
<text x="772" y="817" font-size="9.5" fill="#000" textLength="52.28" lengthAdjust="spacingAndGlyphs">9 May 20:00</text>
<text x="836" y="817" font-size="9.5" fill="#000" textLength="57.56" lengthAdjust="spacingAndGlyphs">10 May 12:00</text>
<text x="900" y="817" font-size="9.5" fill="#000" textLength="56.86" lengthAdjust="spacingAndGlyphs">11 May 04:00</text>
<text x="964" y="817" font-size="9.5" fill="#000" textLength="56.86" lengthAdjust="spacingAndGlyphs">11 May 20:00</text>
<text x="1028" y="817" font-size="9.5" fill="#000" textLength="57.56" lengthAdjust="spacingAndGlyphs">12 May 12:00</text>
<text x="1092" y="817" font-size="9.5" fill="#000" textLength="57.56" lengthAdjust="spacingAndGlyphs">15 May 04:00</text>
<text x="1156" y="817" font-size="9.5" fill="#000" textLength="57.56" lengthAdjust="spacingAndGlyphs">15 May 20:00</text>
<text x="1220" y="817" font-size="9.5" fill="#000" textLength="57.56" lengthAdjust="spacingAndGlyphs">16 May 12:00</text>
<g id="toolbar">
<!-- separators -->
<g shape-rendering="crispEdges">
<rect x="204" y="0" width="1" height="23" fill="#7a7a7a"/><rect x="205" y="0" width="1" height="23" fill="#ffffff"/>
<rect x="572" y="0" width="1" height="23" fill="#7a7a7a"/><rect x="573" y="0" width="1" height="23" fill="#ffffff"/>
<rect x="878" y="0" width="1" height="23" fill="#7a7a7a"/><rect x="879" y="0" width="1" height="23" fill="#ffffff"/>
<rect x="1139" y="0" width="1" height="23" fill="#7a7a7a"/><rect x="1140" y="0" width="1" height="23" fill="#ffffff"/>
<rect x="242" y="0" width="1" height="21" fill="#8a8a8a"/>
<rect x="299" y="0" width="1" height="21" fill="#8a8a8a"/>
<rect x="389" y="0" width="1" height="21" fill="#8a8a8a"/>
<rect x="394" y="0" width="1" height="21" fill="#8a8a8a"/>
<rect x="422" y="0" width="1" height="21" fill="#8a8a8a"/>
<rect x="451" y="0" width="1" height="21" fill="#8a8a8a"/>
<rect x="582" y="0" width="1" height="21" fill="#8a8a8a"/>
<rect x="639" y="0" width="1" height="21" fill="#8a8a8a"/>
<rect x="1028" y="0" width="1" height="21" fill="#8a8a8a"/>
<!-- selected backgrounds -->
<rect x="243" y="1" width="24" height="20" fill="#f7f7f7"/>
<rect x="395" y="1" width="24" height="20" fill="#f7f7f7"/>
<rect x="423" y="1" width="24" height="20" fill="#f7f7f7"/>
<rect x="583" y="1" width="24" height="20" fill="#f7f7f7"/>
<rect x="1029" y="1" width="24" height="20" fill="#f7f7f7"/>
</g>
<!-- grippers -->
<g fill="#8c8c8c" shape-rendering="crispEdges">
<rect x="208" y="1" width="3" height="1"/><rect x="208" y="3" width="3" height="1"/><rect x="208" y="5" width="3" height="1"/><rect x="208" y="7" width="3" height="1"/><rect x="208" y="9" width="3" height="1"/><rect x="208" y="11" width="3" height="1"/><rect x="208" y="13" width="3" height="1"/><rect x="208" y="15" width="3" height="1"/><rect x="208" y="17" width="3" height="1"/><rect x="208" y="19" width="3" height="1"/>
<rect x="576" y="1" width="3" height="1"/><rect x="576" y="3" width="3" height="1"/><rect x="576" y="5" width="3" height="1"/><rect x="576" y="7" width="3" height="1"/><rect x="576" y="9" width="3" height="1"/><rect x="576" y="11" width="3" height="1"/><rect x="576" y="13" width="3" height="1"/><rect x="576" y="15" width="3" height="1"/><rect x="576" y="17" width="3" height="1"/><rect x="576" y="19" width="3" height="1"/>
<rect x="882" y="1" width="3" height="1"/><rect x="882" y="3" width="3" height="1"/><rect x="882" y="5" width="3" height="1"/><rect x="882" y="7" width="3" height="1"/><rect x="882" y="9" width="3" height="1"/><rect x="882" y="11" width="3" height="1"/><rect x="882" y="13" width="3" height="1"/><rect x="882" y="15" width="3" height="1"/><rect x="882" y="17" width="3" height="1"/><rect x="882" y="19" width="3" height="1"/>
</g>
<!-- CJK -->
<g fill="#000" shape-rendering="crispEdges"><rect x="0" y="5" width="3" height="1"/><rect x="0" y="8" width="3" height="1"/><rect x="1" y="8" width="1" height="7"/><rect x="0" y="11" width="3" height="1"/><rect x="4" y="6" width="1" height="9"/><rect x="5" y="5" width="2" height="1"/><rect x="7" y="4" width="2" height="1"/><rect x="4" y="8" width="7" height="1"/><rect x="7" y="8" width="1" height="7"/><rect x="11" y="4" width="1" height="1"/><rect x="12" y="5" width="1" height="1"/><rect x="11" y="8" width="1" height="6"/><rect x="12" y="12" width="1" height="1"/><rect x="13" y="11" width="1" height="1"/><rect x="13" y="5" width="8" height="1"/><rect x="17" y="5" width="1" height="10"/><rect x="15" y="14" width="2" height="1"/><rect x="23" y="4" width="1" height="1"/><rect x="24" y="5" width="1" height="1"/><rect x="30" y="4" width="1" height="1"/><rect x="29" y="5" width="1" height="1"/><rect x="22" y="6" width="10" height="1"/><rect x="22" y="8" width="10" height="1"/><rect x="22" y="10" width="10" height="1"/><rect x="22" y="6" width="1" height="5"/><rect x="31" y="6" width="1" height="5"/><rect x="27" y="6" width="1" height="9"/><rect x="21" y="12" width="13" height="1"/><rect x="153" y="4" width="2" height="1"/><rect x="150" y="5" width="10" height="1"/><rect x="150" y="7" width="10" height="1"/><rect x="150" y="10" width="10" height="1"/><rect x="150" y="13" width="10" height="1"/><rect x="150" y="5" width="1" height="9"/><rect x="159" y="5" width="1" height="9"/><rect x="162" y="5" width="5" height="1"/><rect x="161" y="8" width="7" height="1"/><rect x="163" y="9" width="1" height="2"/><rect x="162" y="11" width="1" height="2"/><rect x="162" y="13" width="6" height="1"/><rect x="166" y="11" width="1" height="1"/><rect x="167" y="12" width="1" height="1"/><rect x="167" y="6" width="5" height="1"/><rect x="171" y="6" width="1" height="9"/><rect x="170" y="14" width="1" height="1"/><rect x="169" y="4" width="1" height="5"/><rect x="168" y="9" width="1" height="3"/><rect x="167" y="12" width="1" height="2"/><rect x="178" y="4" width="2" height="1"/><rect x="173" y="6" width="12" height="1"/><rect x="176" y="8" width="1" height="1"/><rect x="175" y="9" width="1" height="1"/><rect x="181" y="8" width="1" height="1"/><rect x="182" y="9" width="1" height="1"/><rect x="186" y="4" width="10" height="1"/><rect x="186" y="6" width="10" height="1"/><rect x="186" y="9" width="10" height="1"/><rect x="186" y="4" width="1" height="6"/><rect x="195" y="4" width="1" height="6"/><rect x="186" y="11" width="10" height="1"/><rect x="195" y="11" width="1" height="4"/><rect x="194" y="14" width="1" height="1"/></g>
<g fill="none" stroke="#000" stroke-width="1"><path d="M182,10L174.5,15 M175.5,10L183.5,15 M188.5,10L186,13 M191,11.5L188,15 M193.5,11.5L190.5,15"/></g>
<!-- book icon -->
<polygon points="45,13 51,4.5 60.5,12 60,14.5 53.5,18.5 45.5,14.5" fill="#e0b030" stroke="#9a6010" stroke-width="1"/>
<polygon points="47,12.5 51.5,6 58.5,11.5 53,16" fill="#f5d860"/>
<!-- box + cloud -->
<rect x="75.5" y="4" width="10" height="9" fill="#2a90f0" stroke="#1060c0" stroke-width="0.8"/>
<rect x="78.5" y="6" width="5" height="2" fill="#bfe0ff"/>
<path d="M74,17.5 Q72.5,14.5 76,13.5 Q77.5,10.5 81,11.5 Q84,10 86,12.5 Q89.5,13 88.5,16.5 Q88,18.5 86,18.5 H76 Q74.5,18.5 74,17.5Z" fill="#e8eef6" stroke="#6080a8" stroke-width="1"/>
<!-- signal -->
<g fill="none" stroke-width="1">
<circle cx="109" cy="10.5" r="7.5" stroke="#7098d8"/>
<circle cx="109" cy="10.5" r="5" stroke="#4878c8"/>
<circle cx="109" cy="10.5" r="2.5" stroke="#3060c0"/>
<path d="M109,10.5V18.5" stroke="#20a020" stroke-width="1.5"/>
<path d="M116.5,10.5A7.5,7.5 0 0 1 109,18" stroke="#60b060" stroke-width="1.5"/>
</g>
<circle cx="109" cy="10.5" r="1.5" fill="#2050c0"/>
<!-- auto trading -->
<polygon points="128.5,10.5 143.5,10.5 136,18.5" fill="#f0d040" stroke="#b09020" stroke-width="0.8"/>
<ellipse cx="136" cy="8" rx="8" ry="3.2" fill="#58a8e0" stroke="#3080c0" stroke-width="0.8"/>
<ellipse cx="136" cy="5.5" rx="4" ry="3" fill="#70b8e8"/>
<circle cx="140.5" cy="15" r="4.2" fill="#e02010"/>
<rect x="139" y="13.5" width="3" height="3" fill="#fff"/>
<!-- bar chart icon -->
<g fill="none" stroke="#555" stroke-width="1" shape-rendering="crispEdges">
<path d="M222.5,5V18.5 M220,16.5H233.5"/>
<path d="M250.5,5V18.5 M248,16.5H261.5"/>
<path d="M278.5,5V18.5 M276,16.5H289.5"/>
<path d="M402.5,5V18.5 M400,16.5H413.5"/>
<path d="M430.5,5V18.5 M428,16.5H441.5"/>
</g>
<g fill="#555">
<polygon points="220.5,6.5 222.5,4 224.5,6.5"/><polygon points="232,14.5 234.5,16.5 232,18.5"/>
<polygon points="248.5,6.5 250.5,4 252.5,6.5"/><polygon points="260,14.5 262.5,16.5 260,18.5"/>
<polygon points="276.5,6.5 278.5,4 280.5,6.5"/><polygon points="288,14.5 290.5,16.5 288,18.5"/>
<polygon points="400.5,6.5 402.5,4 404.5,6.5"/><polygon points="412,14.5 414.5,16.5 412,18.5"/>
<polygon points="428.5,6.5 430.5,4 432.5,6.5"/><polygon points="440,14.5 442.5,16.5 440,18.5"/>
</g>
<path d="M228.5,6V14.5 M228.5,7.5H231 M226,13.5H228.5" fill="none" stroke="#10a010" stroke-width="1.2"/>
<rect x="254.5" y="5.5" width="4.5" height="7.5" fill="#40e040" stroke="#109010" stroke-width="1"/>
<path d="M256.7,3V5.5 M256.7,13V14.5" stroke="#109010" stroke-width="1"/>
<path d="M277,13.5 Q283,5 289,12.5" fill="none" stroke="#30a030" stroke-width="1.2"/>
<polygon points="407.5,7.5 411.5,10.6 407.5,13.5" fill="#a0f0a0" stroke="#10a010" stroke-width="1.2"/>
<path d="M436.5,5V15" stroke="#1060a0" stroke-width="1.2"/>
<path d="M442,10.6H438" stroke="#d04010" stroke-width="1.2"/><polygon points="437,10.6 439.5,8.5 439.5,12.7" fill="#e05010"/>
<!-- zoom in/out -->
<g>
<path d="M318,13 L323.5,18.5" stroke="#c8a820" stroke-width="3"/>
<circle cx="314" cy="9" r="5.3" fill="#d8f0fa" stroke="#3a7cc0" stroke-width="1.2"/>
<path d="M311,9H317 M314,6V12" stroke="#4a88b0" stroke-width="1.6"/>
<path d="M346,13 L351.5,18.5" stroke="#c8a820" stroke-width="3"/>
<circle cx="342" cy="9" r="5.3" fill="#d8f0fa" stroke="#3a7cc0" stroke-width="1.2"/>
<path d="M339,9H345" stroke="#4a88b0" stroke-width="1.6"/>
</g>
<!-- tile -->
<g shape-rendering="crispEdges">
<rect x="364" y="3" width="8" height="8" fill="#30a020"/><rect x="372" y="3" width="8" height="8" fill="#2050d0"/>
<rect x="364" y="11" width="8" height="8" fill="#2050d0"/><rect x="372" y="11" width="8" height="8" fill="#30a020"/>
<rect x="365" y="6" width="6" height="4" fill="#fff"/><rect x="373" y="6" width="6" height="4" fill="#fff"/>
<rect x="365" y="14" width="6" height="4" fill="#fff"/><rect x="373" y="14" width="6" height="4" fill="#fff"/>
</g>
<!-- new chart -->
<path d="M461.5,3.5H470L472.5,6V16.5H461.5Z" fill="#fafafa" stroke="#888" stroke-width="1"/>
<path d="M465,7V13" stroke="#a08060" stroke-width="1"/>
<path d="M471,9.5V20.5 M465.5,15H476.5" stroke="#108010" stroke-width="4.5"/>
<path d="M471,9.5V20.5 M465.5,15H476.5" stroke="#30e030" stroke-width="2.5"/>
<polygon points="483,10 488,10 485.5,13" fill="#000"/>
<!-- clock -->
<circle cx="507" cy="11" r="7.8" fill="#1560c8"/>
<circle cx="507" cy="11" r="6.8" fill="none" stroke="#3c90e8" stroke-width="1.2"/>
<circle cx="507" cy="11" r="5.3" fill="#fafafa"/>
<path d="M507,7V8 M507,14V15 M503,11H504 M510,11H511" stroke="#999" stroke-width="0.8"/>
<path d="M506.5,8V11.5H509.5" fill="none" stroke="#222" stroke-width="1.1"/>
<polygon points="522,10 527,10 524.5,13" fill="#000"/>
<!-- indicators -->
<rect x="538.5" y="4.5" width="15" height="13" fill="#fff" stroke="#3070c0" stroke-width="1"/>
<rect x="539" y="5" width="14" height="2" fill="#5090d8"/>
<rect x="539" y="12" width="14" height="1" fill="#3070c0"/>
<path d="M540.5,10.5L543,10L545,8.5L547,9.5L549,9.5L551.5,8.5" fill="none" stroke="#a02010" stroke-width="1.1"/>
<path d="M540.5,15.5L542.5,15L544.5,14L546,15.5L548,13L550,13.5L551.5,15.5" fill="none" stroke="#109010" stroke-width="1.1"/>
<polygon points="561,10 566,10 563.5,13" fill="#000"/>
<!-- cursor -->
<polygon points="590,4 598,11.6 594.5,11.8 597,17 595,18 592.5,13 590,15" fill="#505050"/>
<!-- crosshair -->
<path d="M622.5,4V10 M622.5,13V19 M615,11.5H621 M624,11.5H630" stroke="#505050" stroke-width="1" shape-rendering="crispEdges"/>
<path d="M656.5,5V18" stroke="#505050" stroke-width="1" shape-rendering="crispEdges"/>
<path d="M679,11.5H691" stroke="#505050" stroke-width="1" shape-rendering="crispEdges"/>
<path d="M707,17.5L719,5.5" stroke="#505050" stroke-width="1.1"/>
<!-- channel -->
<path d="M733,12.5L741,5 M734,16.5L747,4.5 M737.5,18L747,9.5 M745,3.5V10 M741.5,6V14 M738,9V17 M734.5,11V16" stroke="#484848" stroke-width="1" fill="none"/>
<text x="744" y="19.5" font-size="6.5" font-weight="bold" fill="#505050">E</text>
<!-- fibo -->
<g stroke="#505050" stroke-width="1" stroke-dasharray="1,1" shape-rendering="crispEdges">
<path d="M762,4.5H775 M762,7.5H775 M762,11.5H775 M762,15.5H772"/>
</g>
<text x="772" y="19.5" font-size="6.5" font-weight="bold" fill="#505050">F</text>
<text x="792.5" y="16" font-size="12" fill="#444" stroke="#444" stroke-width="0.3">A</text>
<!-- text label -->
<rect x="819.5" y="5.5" width="11" height="12" fill="none" stroke="#606060" stroke-width="1" stroke-dasharray="1,1" shape-rendering="crispEdges"/>
<path d="M822,8.5H828.5 M825.2,8.5V15.5" stroke="#555" stroke-width="1.5"/>
<!-- arrows -->
<polygon points="845.5,9 849.5,4.5 853.5,9" fill="#4a4a4a"/>
<path d="M847.5,12.2L850.5,15L855.5,9.2" fill="none" stroke="#4a4a4a" stroke-width="1.3"/>
<polygon points="852.5,14 860.5,14 856.5,18.5" fill="#4a4a4a"/>
<polygon points="867,10 872,10 869.5,13" fill="#000"/>
<!-- timeframes -->
<g fill="#383838" font-size="9.5">
<text x="893.6" y="14.5">M1</text>
<text x="921.7" y="14.5">M5</text>
<text x="947.4" y="14.5">M15</text>
<text x="975.5" y="14.5">M30</text>
<text x="1006.3" y="14.5">H1</text>
<text x="1033.7" y="14.5">H4</text>
<text x="1062.2" y="14.5">D1</text>
<text x="1089.9" y="14.5">W1</text>
<text x="1116.5" y="14.5">MN</text>
</g>
<!-- search -->
<path d="M1601.5,16L1606.5,11.5" stroke="#2a60c8" stroke-width="2.2"/>
<circle cx="1609.4" cy="8.2" r="3.8" fill="#f4f6ff" stroke="#2a6ad8" stroke-width="1.3"/>
<!-- bubble -->
<path d="M1627,13 Q1626,8.5 1631,8.5 H1634 Q1638,8.5 1637.5,13 Q1637,16.5 1633,16.5 H1631 L1629,19 L1629.5,16 Q1627,15.5 1627,13Z" fill="#e6e6ee" stroke="#9a9a9a" stroke-width="0.9"/>
<circle cx="1640.5" cy="8.4" r="8" fill="#dd3a1a"/>
<text x="1640.5" y="12.9" font-size="12" fill="#fff" text-anchor="middle" style="font-family:'Liberation Serif',serif;font-weight:bold">1</text>
</g>

</svg></body></html>
